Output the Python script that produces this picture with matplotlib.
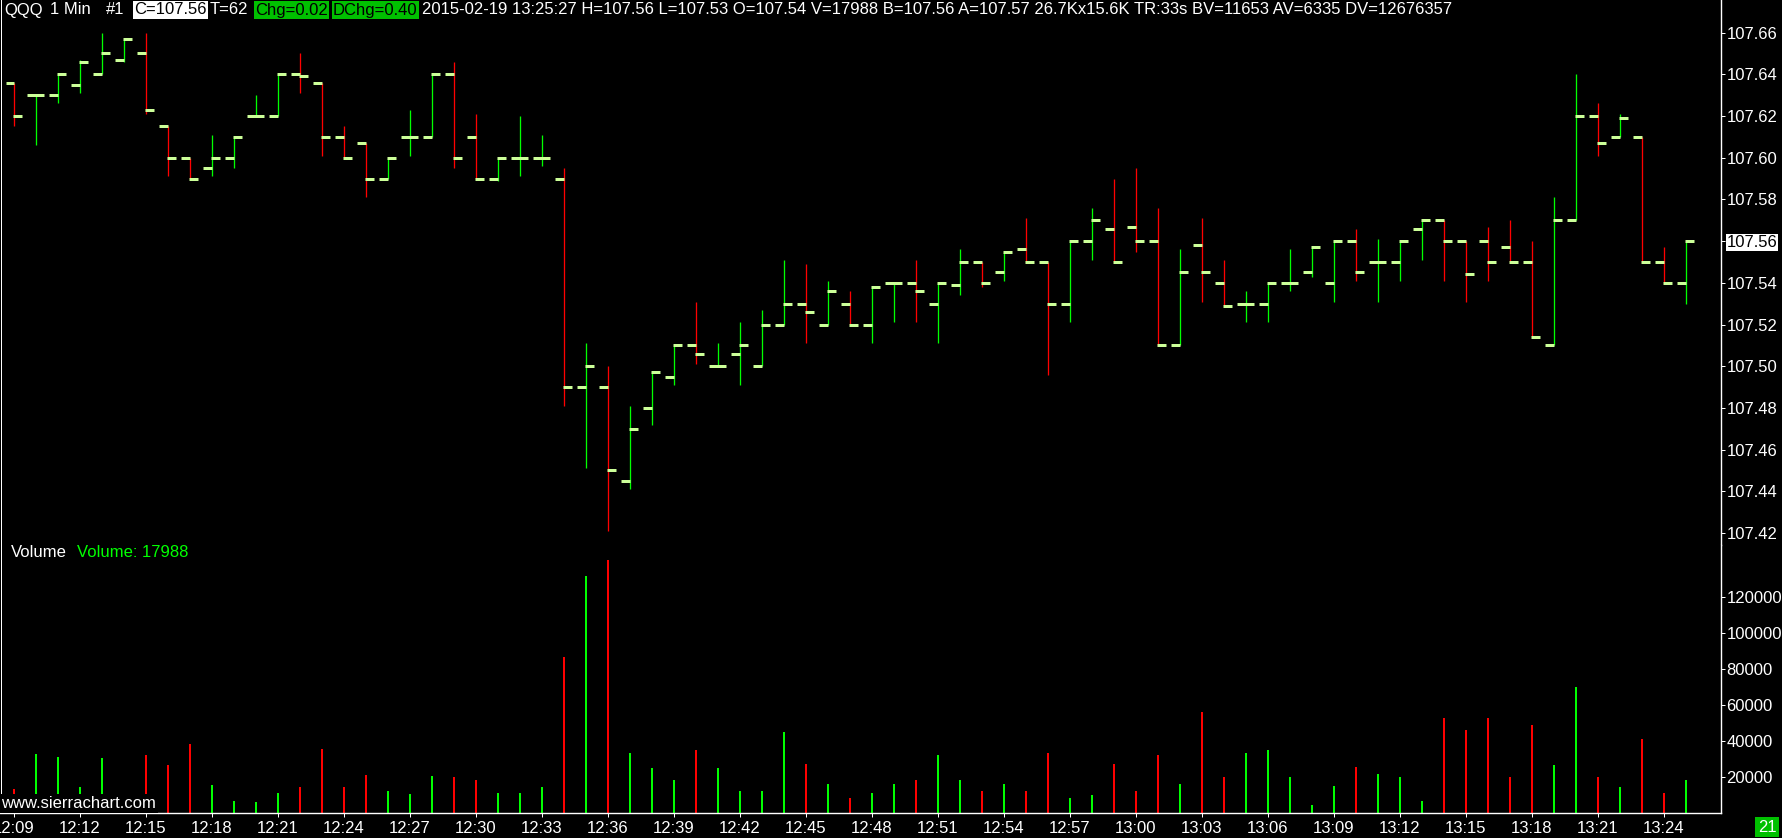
import matplotlib
matplotlib.use("Agg")
import matplotlib.pyplot as plt

W, H = 1783, 838

# one bar per minute, 12:09 .. 13:25
opens = [107.636, 107.630, 107.630, 107.635, 107.640, 107.647, 107.650, 107.615, 107.600, 107.595,
         107.600, 107.620, 107.620, 107.640, 107.636, 107.610, 107.607, 107.590, 107.610, 107.610,
         107.640, 107.610, 107.590, 107.600, 107.600, 107.590, 107.490, 107.490, 107.445, 107.480,
         107.495, 107.510, 107.500, 107.506, 107.500, 107.520, 107.530, 107.520, 107.530, 107.520,
         107.540, 107.540, 107.530, 107.539, 107.550, 107.545, 107.556, 107.550, 107.530, 107.560,
         107.566, 107.567, 107.560, 107.510, 107.558, 107.540, 107.530, 107.530, 107.540, 107.545,
         107.540, 107.560, 107.550, 107.550, 107.566, 107.570, 107.560, 107.560, 107.557, 107.550,
         107.510, 107.570, 107.620, 107.610, 107.610, 107.550, 107.540]
highs = [107.636, 107.630, 107.640, 107.647, 107.660, 107.657, 107.660, 107.615, 107.600, 107.611,
         107.610, 107.630, 107.640, 107.650, 107.636, 107.615, 107.607, 107.600, 107.623, 107.640,
         107.646, 107.621, 107.600, 107.620, 107.611, 107.595, 107.511, 107.500, 107.481, 107.497,
         107.510, 107.531, 107.511, 107.521, 107.527, 107.551, 107.549, 107.541, 107.536, 107.538,
         107.540, 107.551, 107.540, 107.556, 107.550, 107.555, 107.571, 107.550, 107.560, 107.576,
         107.590, 107.595, 107.576, 107.556, 107.571, 107.551, 107.536, 107.540, 107.556, 107.557,
         107.560, 107.566, 107.561, 107.560, 107.570, 107.570, 107.560, 107.567, 107.570, 107.560,
         107.581, 107.640, 107.626, 107.621, 107.610, 107.557, 107.560]
lows = [107.615, 107.606, 107.626, 107.631, 107.640, 107.646, 107.621, 107.591, 107.590, 107.591,
        107.595, 107.620, 107.620, 107.631, 107.601, 107.600, 107.581, 107.590, 107.601, 107.610,
        107.595, 107.590, 107.589, 107.591, 107.596, 107.481, 107.451, 107.421, 107.441, 107.472,
        107.491, 107.501, 107.500, 107.491, 107.500, 107.520, 107.511, 107.520, 107.520, 107.511,
        107.521, 107.521, 107.511, 107.534, 107.538, 107.541, 107.550, 107.496, 107.521, 107.551,
        107.550, 107.555, 107.510, 107.510, 107.531, 107.529, 107.521, 107.521, 107.536, 107.543,
        107.531, 107.541, 107.531, 107.541, 107.551, 107.541, 107.531, 107.541, 107.550, 107.514,
        107.510, 107.570, 107.601, 107.610, 107.550, 107.540, 107.530]
closes = [107.620, 107.630, 107.640, 107.646, 107.650, 107.657, 107.623, 107.600, 107.590, 107.600,
          107.610, 107.620, 107.640, 107.639, 107.610, 107.600, 107.590, 107.600, 107.610, 107.640,
          107.600, 107.590, 107.600, 107.600, 107.600, 107.490, 107.500, 107.450, 107.470, 107.497,
          107.510, 107.506, 107.500, 107.510, 107.520, 107.530, 107.526, 107.536, 107.520, 107.538,
          107.540, 107.536, 107.540, 107.550, 107.540, 107.555, 107.550, 107.530, 107.560, 107.570,
          107.550, 107.560, 107.510, 107.545, 107.545, 107.529, 107.530, 107.540, 107.540, 107.557,
          107.560, 107.545, 107.550, 107.560, 107.570, 107.560, 107.544, 107.550, 107.550, 107.514,
          107.570, 107.620, 107.607, 107.619, 107.550, 107.540, 107.560]
volumes = [13000, 32600, 30900, 14200, 30300, 8000, 32000, 26500, 38400, 15300,
           6400, 5850, 10860, 14200, 35400, 14200, 20900, 12000, 10300, 20300,
           20000, 18000, 11000, 11000, 14000, 86500, 132000, 140400, 33000, 25000,
           18000, 35000, 25000, 12000, 12000, 45000, 27000, 16000, 8000, 11000,
           16000, 18000, 32000, 18000, 12000, 16000, 12000, 33000, 8000, 10000,
           27000, 12000, 32000, 16000, 56000, 20000, 33000, 35000, 20000, 4200,
           14800, 25300, 21400, 19800, 6400, 52900, 46000, 52900, 19800, 49000,
           26500, 70000, 19800, 14200, 41000, 10900, 17988]

time_labels = ["12:09", "12:12", "12:15", "12:18", "12:21", "12:24", "12:27", "12:30", "12:33",
               "12:36", "12:39", "12:42", "12:45", "12:48", "12:51", "12:54", "12:57", "13:00",
               "13:03", "13:06", "13:09", "13:12", "13:15", "13:18", "13:21", "13:24"]
price_ticks = [107.42, 107.44, 107.46, 107.48, 107.50, 107.52, 107.54, 107.56, 107.58,
               107.60, 107.62, 107.64, 107.66]
vol_ticks = [20000, 40000, 60000, 80000, 100000, 120000]
last_price = 107.56

plt.rcParams['font.family'] = ['Liberation Sans', 'DejaVu Sans']

UP = '#00ff00'
DOWN = '#ff0000'
TICK = '#ccff99'
PX = 72 / 100  # points per pixel

fig = plt.figure(figsize=(W / 100, H / 100), dpi=100, facecolor='black')

right = 1721
price_bot = 545
vol_bot = 812.5
ax_p = fig.add_axes([0, 1 - price_bot / H, right / W, price_bot / H])
ax_v = fig.add_axes([0, 1 - vol_bot / H, right / W, (vol_bot - price_bot) / H], sharex=ax_p)

for ax in (ax_p, ax_v):
    ax.set_facecolor('black')
    for s in ax.spines.values():
        s.set_visible(False)
    ax.spines['right'].set_visible(True)
    ax.spines['right'].set_color('white')
    ax.spines['right'].set_linewidth(1.4 * PX)
    ax.yaxis.tick_right()
    ax.tick_params(axis='y', colors='white', labelsize=12, length=3 * PX * 1.4, width=PX, pad=1)

ax_v.spines['bottom'].set_visible(True)
ax_v.spines['bottom'].set_color('white')
ax_v.spines['bottom'].set_linewidth(1.4 * PX)

n = len(opens)
xs = list(range(n))
ax_p.set_xlim(-14 / 22, (right - 14) / 22)
ax_p.set_ylim(107.64 - (price_bot - 74.3) / 2085, 107.64 + 74.3 / 2085)
ax_v.set_ylim(0, (vol_bot - price_bot) * 557)

cols = [UP if c >= o else DOWN for o, c in zip(opens, closes)]

# OHLC bars: vertical range, open tick left, close tick right
ax_p.vlines(xs, lows, highs, colors=cols, linewidth=1.3 * PX, zorder=2)
ax_p.hlines(opens, [x - 8.5 / 22 for x in xs], [x + 0.5 / 22 for x in xs],
            colors=TICK, linewidth=3 * PX, zorder=3)
ax_p.hlines(closes, [x - 0.5 / 22 for x in xs], [x + 8.5 / 22 for x in xs],
            colors=TICK, linewidth=3 * PX, zorder=3)

ax_p.set_yticks(price_ticks, labels=[f"{p:.2f}" for p in price_ticks])
for lbl in ax_p.get_yticklabels():
    if lbl.get_text() == f"{last_price:.2f}":
        lbl.set_color('black')
        lbl.set_bbox(dict(facecolor='white', edgecolor='none', pad=0.5))
ax_p.tick_params(axis='x', bottom=False, labelbottom=False)

# volume
ax_v.vlines(xs, 0, volumes, colors=cols, linewidth=2 * PX)
ax_v.set_yticks(vol_ticks, labels=[str(v) for v in vol_ticks])
ax_v.set_xticks(xs[::3], labels=time_labels)
ax_v.tick_params(axis='x', colors='white', labelsize=12, length=3 * PX * 1.4, width=PX, pad=3)

# left border
fig.add_artist(plt.Line2D([0.6 / W, 0.6 / W], [1 - vol_bot / H, 1], color='white', linewidth=PX))


def ftext(x, y, s, **kw):
    return fig.text(x / W, 1 - y / H, s, va='center', ha='left', **kw)


# header
hdr = dict(fontsize=12)
ftext(4, 10, "QQQ", color='white', **hdr)
ftext(50, 10, "1 Min", color='white', **hdr)
ftext(106, 10, "#1", color='white', **hdr)
ftext(134, 10, "C=107.56", color='black',
      bbox=dict(facecolor='white', edgecolor='none', pad=1.0), **hdr)
ftext(210, 10, "T=62", color='white', **hdr)
ftext(255, 10, "Chg=0.02", color='black',
      bbox=dict(facecolor='#00c000', edgecolor='none', pad=1.0), **hdr)
ftext(333, 10, "DChg=0.40", color='black',
      bbox=dict(facecolor='#00c000', edgecolor='none', pad=1.0), **hdr)
ftext(422, 10, "2015-02-19 13:25:27 H=107.56 L=107.53 O=107.54 V=17988 B=107.56 A=107.57 "
      "26.7Kx15.6K TR:33s BV=11653 AV=6335 DV=12676357", color='white', **hdr)

# volume study header
ftext(11, 552, "Volume", color='white', fontsize=12)
ftext(77, 552, "Volume: 17988", color=UP, fontsize=12)

ftext(1, 803, "www.sierrachart.com", color='white', fontsize=12,
      bbox=dict(facecolor='black', edgecolor='none', pad=1.5), zorder=5)

ftext(1758, 827, "21", color='white', fontsize=12,
      bbox=dict(facecolor='#00c000', edgecolor='none', pad=2))

fig.savefig('out.png', dpi=100, facecolor='black')
